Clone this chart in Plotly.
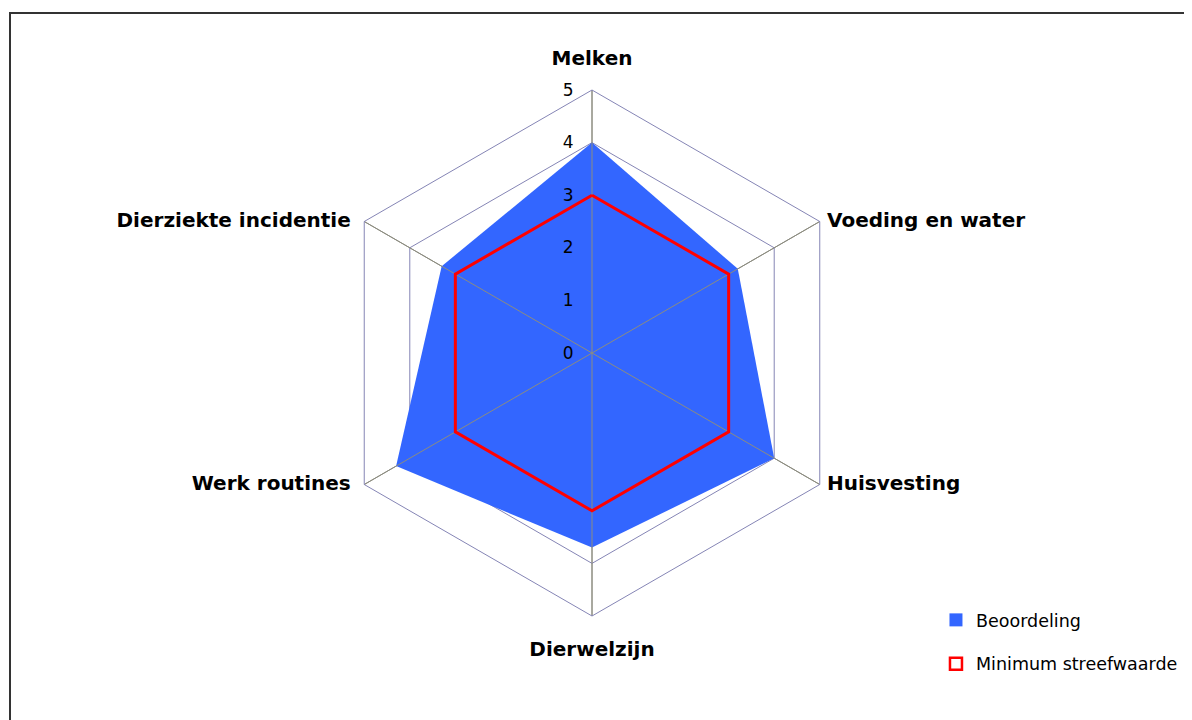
import plotly.graph_objects as go

categories = ["Melken", "Voeding en water", "Huisvesting", "Dierwelzijn",
              "Werk routines", "Dierziekte incidentie"]
beoordeling = [4.0, 3.2, 4.0, 3.7, 4.3, 3.3]
minimum = [3, 3, 3, 3, 3, 3]
tick_values = [0, 1, 2, 3, 4, 5]
r_max = 5

FONT = "DejaVu Sans"
BLUE = "#3366FF"
RED = "#FF0000"
GRID = "#8585B5"
SPOKE = "#8C8C80"

# the page body adds an 8px offset; positions below are in page pixels minus 8
CX, CY, R = 584, 345, 263
W, H = 1192, 720

def closed(v):
    return list(v) + [v[0]]

fig = go.Figure()

fig.add_trace(go.Scatterpolar(
    r=closed(beoordeling), theta=closed(categories), mode="none",
    fill="toself", fillcolor=BLUE, showlegend=False, hoverinfo="skip"))

# spokes drawn above the fill
sr, st = [], []
for c in categories:
    sr += [0, r_max, None]
    st += [c, c, None]
fig.add_trace(go.Scatterpolar(
    r=sr, theta=st, mode="lines", line=dict(color=SPOKE, width=1),
    connectgaps=False, showlegend=False, hoverinfo="skip"))

fig.add_trace(go.Scatterpolar(
    r=closed(minimum), theta=closed(categories), mode="lines",
    line=dict(color=RED, width=3), showlegend=False))

# category labels placed at the outer ring
label_font = dict(size=20, family=FONT, weight="bold", color="black")
label_groups = [
    ([0], "top center", 30),
    ([3], "bottom center", 38),
    ([1, 2], "middle right", 10),
    ([4, 5], "middle left", 20),
]
for idx, pos, gap in label_groups:
    names = [categories[i] for i in idx]
    fig.add_trace(go.Scatterpolar(
        r=[r_max] * len(names), theta=names, text=names, mode="markers+text",
        textposition=pos, textfont=label_font,
        marker=dict(size=gap, color="rgba(0,0,0,0)"), showlegend=False,
        hoverinfo="skip", cliponaxis=False))

# legend entries
fig.add_trace(go.Scatterpolar(
    r=[None], theta=[None], mode="markers", name="Beoordeling",
    marker=dict(symbol="square", size=13, color=BLUE), legendgroup="a"))
fig.add_trace(go.Scatterpolar(
    r=[None], theta=[None], mode="markers", name="Minimum streefwaarde",
    marker=dict(symbol="square-open", size=12, color=RED, line=dict(width=2.5)),
    legendgroup="b"))

fig.update_layout(
    width=W, height=H,
    margin=dict(l=0, r=0, t=0, b=0),
    paper_bgcolor="white",
    font=dict(family=FONT, color="black"),
    polar=dict(
        domain=dict(x=[(CX - R) / W, (CX + R) / W],
                    y=[(H - CY - R) / H, (H - CY + R) / H]),
        gridshape="linear",
        bgcolor="white",
        radialaxis=dict(range=[0, r_max], tickvals=tick_values, angle=90,
                        showline=False, ticks="outside", ticklen=12,
                        tickcolor="rgba(0,0,0,0)", gridcolor=GRID, gridwidth=1,
                        tickfont=dict(size=17, family=FONT), tickangle=90,
                        side="counterclockwise"),
        angularaxis=dict(rotation=90, direction="clockwise",
                         categoryarray=categories, categoryorder="array",
                         showline=True, linecolor=GRID, linewidth=1,
                         gridcolor=SPOKE, ticks="", showticklabels=False),
    ),
    legend=dict(x=0.7785, y=0.175, xanchor="left", yanchor="top",
                font=dict(size=17.5, family=FONT), tracegroupgap=18,
                bgcolor="rgba(0,0,0,0)"),
    shapes=[dict(type="rect", xref="paper", yref="paper",
                 x0=2 / W, y0=1 - 5 / H, x1=1.05, y1=-0.05,
                 line=dict(color="#333333", width=2))],
)

fig.write_html("out.html")
